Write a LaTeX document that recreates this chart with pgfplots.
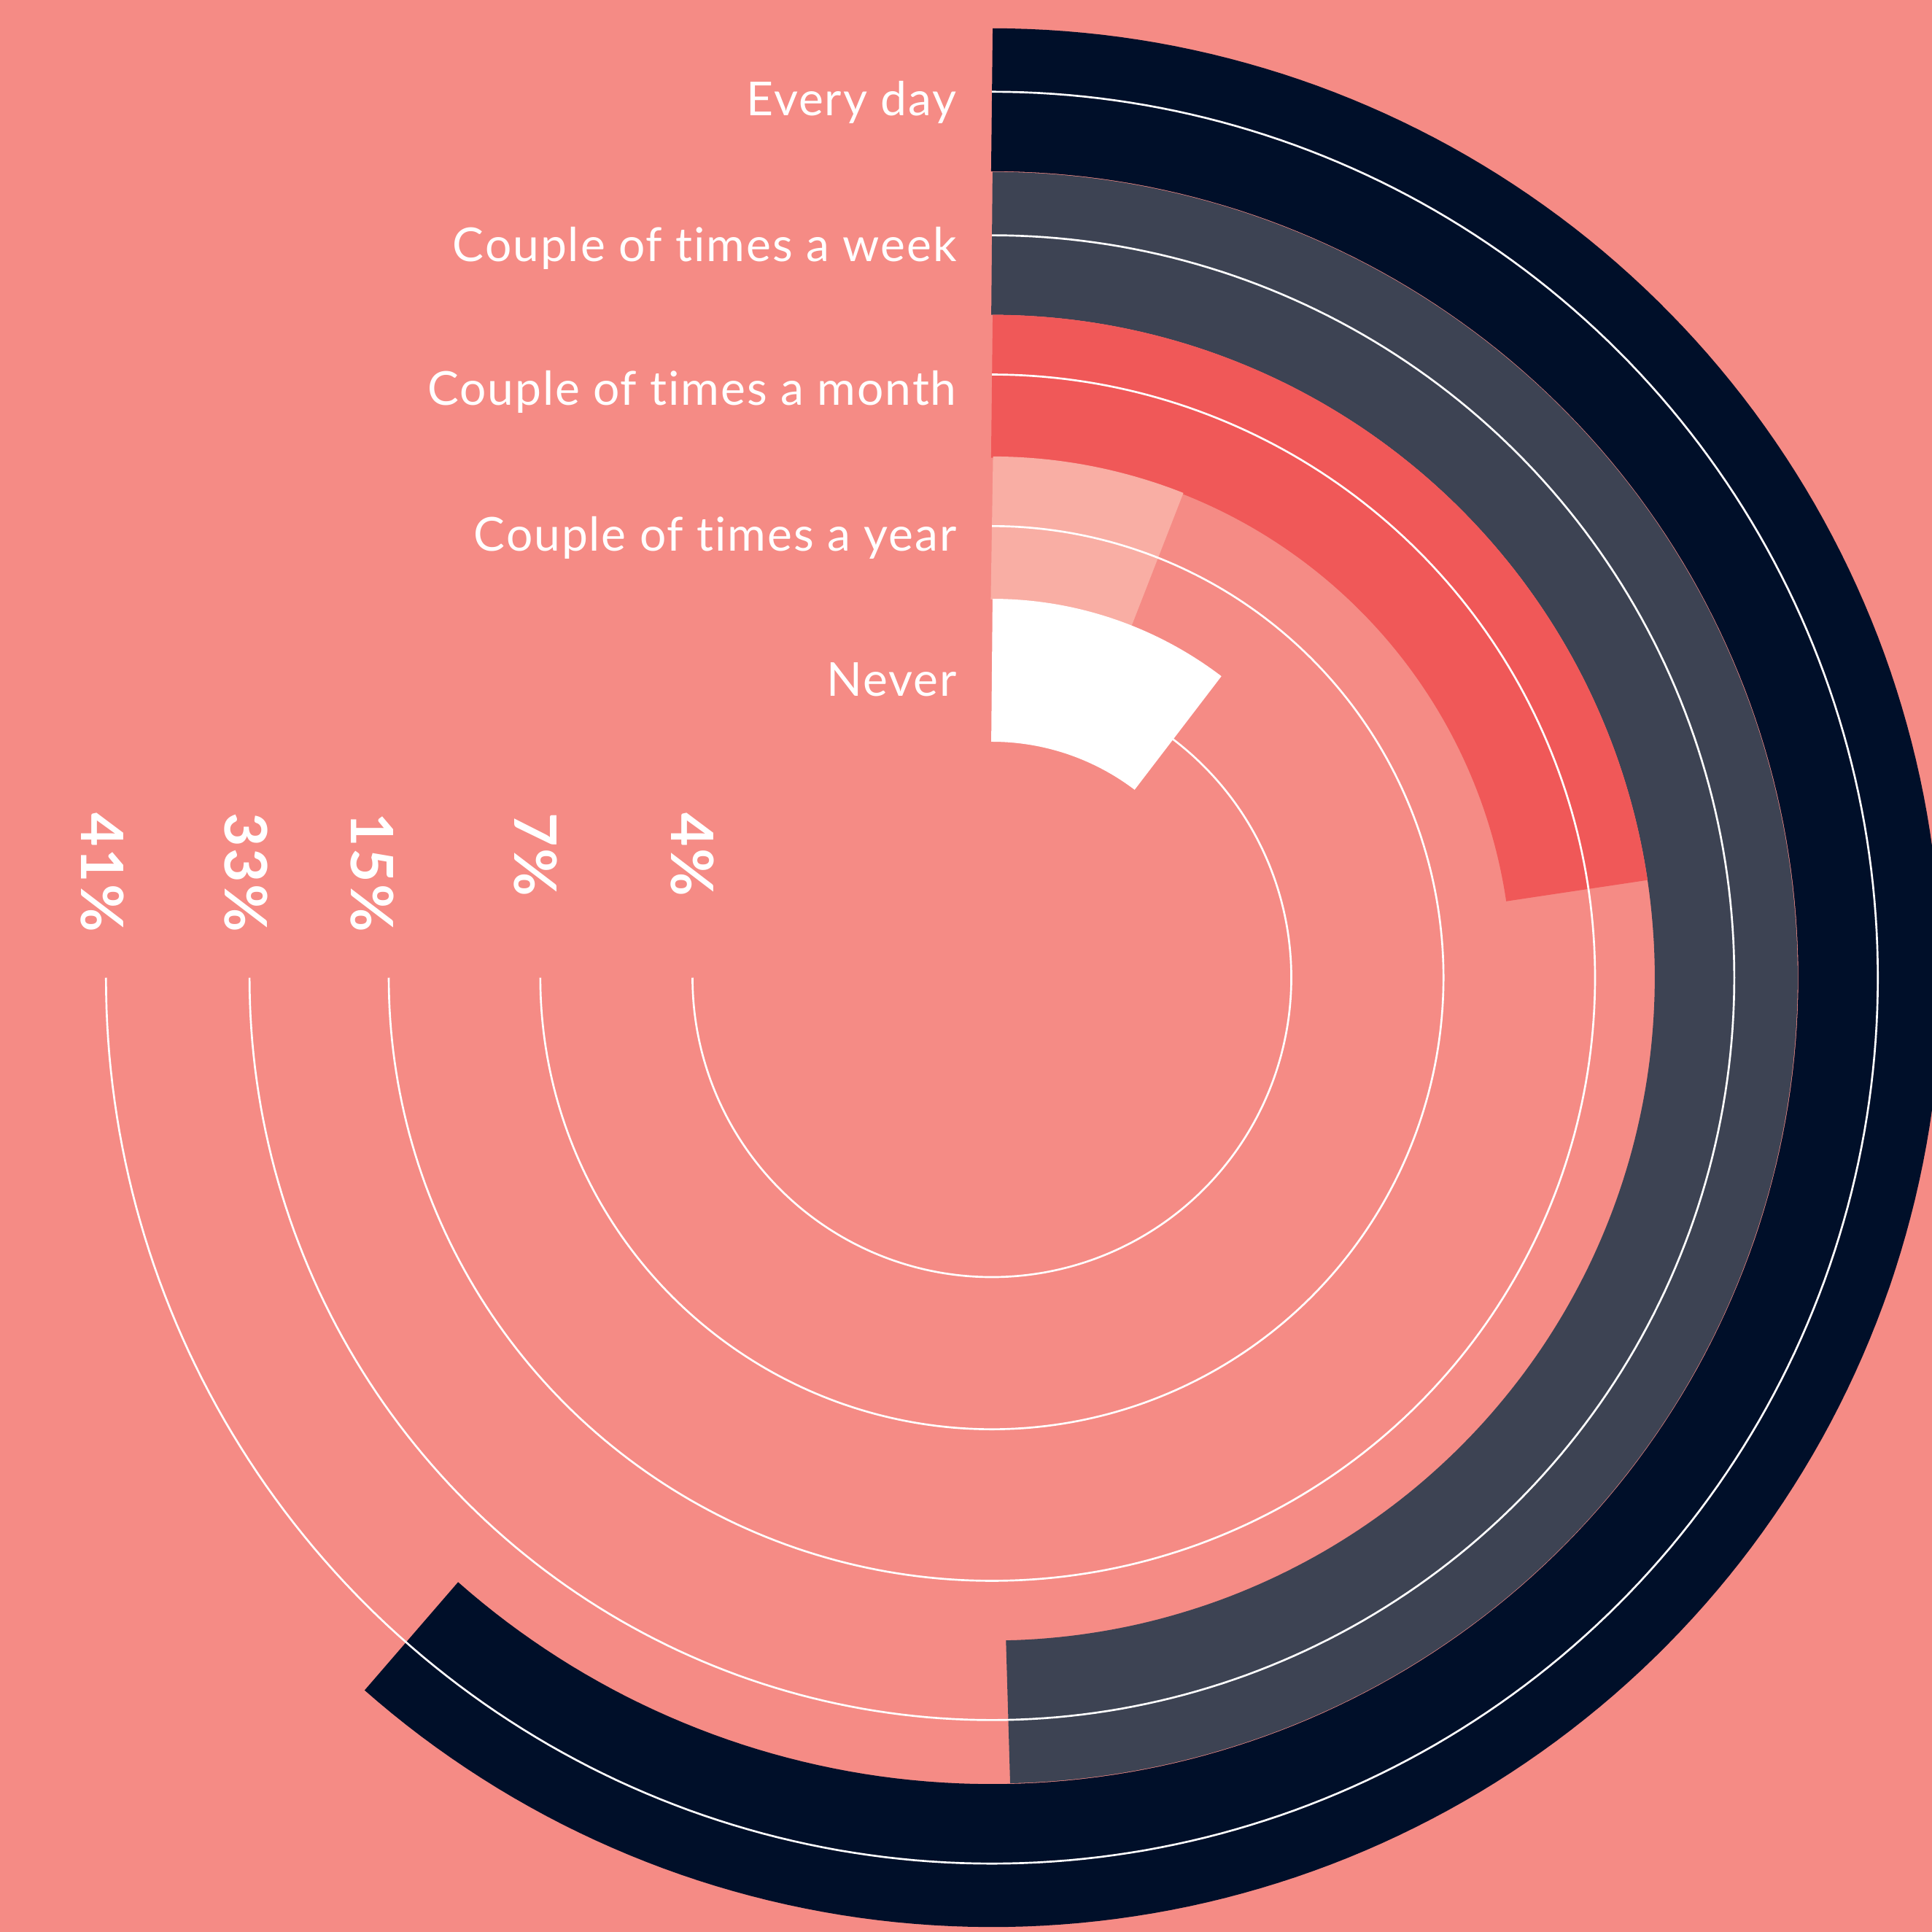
\documentclass[border=0pt]{standalone}
\usepackage{fontspec}
\setmainfont{Lato}[LetterSpace=3, Ligatures={NoCommon, NoRequired, NoContextual}]
\usepackage{pgfplots}
\pgfplotsset{compat=1.18}
\definecolor{bgc}{RGB}{245,139,133}
\definecolor{navyc}{RGB}{0,15,41}
\definecolor{greyc}{RGB}{61,67,83}
\definecolor{redc}{RGB}{240,88,88}
\definecolor{pinkc}{RGB}{249,174,164}
\pgfplotsset{
  mybar/.style={data cs=polar, no markers, line width=1.16cm, samples=200},
  mytrack/.style={data cs=polar, no markers, draw=white, line width=0.45pt, domain=90:-180, samples=271},
}
\tikzset{
  catlab/.style={text=white, anchor=base east, inner sep=0pt, font=\fontsize{10.8}{12}\selectfont},
  pctlab/.style={text=white, rotate=-90, anchor=west, inner sep=0pt, font=\bfseries\fontsize{13.5}{13.5}\selectfont},
}
\begin{document}
\begin{tikzpicture}
\useasboundingbox (0,0) rectangle (15.68,15.68);
\fill[bgc] (0,0) rectangle (15.68,15.68);
\begin{axis}[
  at={(0,0)}, anchor=south west,
  x=1cm, y=1cm,
  xmin=-8.05, xmax=7.63, ymin=-7.745, ymax=7.935,
  hide axis, clip=true,
]
% bars: value v (percent) sweeps 5.4*v degrees clockwise from 12 o'clock
\addplot[mybar, draw=navyc, domain=90:{90-5.4*41}] {7.125};
\addplot[mybar, draw=greyc, domain=90:{90-5.4*33.1}] {5.96};
\addplot[mybar, draw=redc,  domain=90:{90-5.4*15.1}] {4.80};
\addplot[mybar, draw=pinkc, domain=90:{90-5.4*4}]  {3.65};
\addplot[mybar, draw=white, domain=90:{90-5.4*6.9}]  {2.495};
% tracks
\addplot[mytrack] {7.19};
\addplot[mytrack] {6.025};
\addplot[mytrack] {4.895};
\addplot[mytrack] {3.665};
\addplot[mytrack] {2.43};
% category labels
\node[catlab] at (axis cs:-0.28,6.995) {Every day};
\node[catlab] at (axis cs:-0.28,5.815) {Couple of times a week};
\node[catlab] at (axis cs:-0.28,4.645) {Couple of times a month};
\node[catlab] at (axis cs:-0.28,3.465) {Couple of times a year};
\node[catlab] at (axis cs:-0.28,2.285) {Never};
% percent labels
\node[pctlab] at (axis cs:-7.22,1.345) {41\%};
\node[pctlab] at (axis cs:-6.05,1.345) {33\%};
\node[pctlab] at (axis cs:-5.03,1.345) {15\%};
\node[pctlab] at (axis cs:-3.70,1.345) {7\%};
\node[pctlab] at (axis cs:-2.43,1.345) {4\%};
\end{axis}
\end{tikzpicture}
\end{document}
